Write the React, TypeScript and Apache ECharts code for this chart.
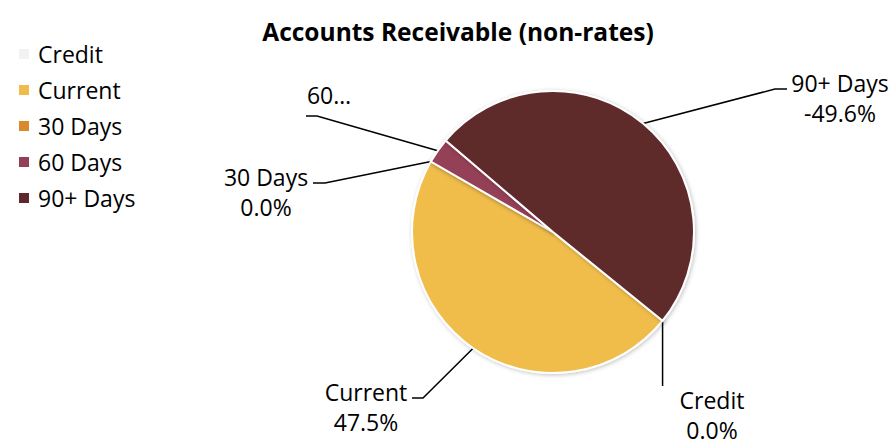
import React, { useEffect, useRef } from "react";
import * as echarts from "echarts";

const categories = ["Credit", "Current", "30 Days", "60 Days", "90+ Days"];
const percentValues = [0.0, 47.5, 0.0, 2.9, -49.6];
const labelNames = ["Credit", "Current", "30 Days", "60…", "90+ Days"];
const labelShowsPercent = [true, true, true, false, true];
const sliceColors = ["#F2F2F2", "#F0BD4B", "#D9882C", "#943F56", "#5E292C"];
const chartTitle = "Accounts Receivable (non-rates)";

// layout only (label block centres and leader-line elbows)
const labelCenters: number[][] = [
  [712, 415],
  [366, 407],
  [266, 192],
  [329, 95],
  [840, 98],
];
const lineElbows: (number | null)[][] = [
  [null, 386, null, 386],
  [423, 398, 412, 398],
  [325, 183, 313, 183],
  [317, 116, 306, 116],
  [775, 89, 787, 89],
];

const FONT = "'Open Sans', 'Noto Sans', sans-serif";

export default function App() {
  const ref = useRef<HTMLDivElement>(null);
  useEffect(() => {
    if (!ref.current) return;
    const chart = echarts.init(ref.current, undefined, { renderer: "svg" });
    const data = categories.map((name, i) => ({
      name,
      value: Math.abs(percentValues[i]),
      itemStyle: { color: sliceColors[i] },
    }));
    chart.setOption({
      animation: false,
      backgroundColor: "#ffffff",
      graphic: [
        {
          type: "text",
          x: 458,
          y: 31,
          style: {
            text: chartTitle,
            font: `bold 24.5px ${FONT}`,
            fill: "#000",
            align: "center",
            verticalAlign: "middle",
          },
        },
      ],
      legend: {
        orient: "vertical",
        left: 12,
        top: 37,
        itemWidth: 12,
        itemHeight: 12,
        itemGap: 12,
        icon: "rect",
        data: categories,
        textStyle: {
          fontFamily: FONT,
          fontSize: 23,
          color: "#000",
          lineHeight: 24,
          padding: [0, 0, 0, 3],
        },
      },
      series: [
        {
          type: "pie",
          center: [553, 232],
          radius: 141,
          startAngle: -39,
          clockwise: true,
          avoidLabelOverlap: false,
          minShowLabelAngle: 0,
          stillShowZeroSum: true,
          itemStyle: {
            borderColor: "#ffffff",
            borderWidth: 2,
            shadowBlur: 4,
            shadowColor: "rgba(0,0,0,0.25)",
            shadowOffsetX: 1,
            shadowOffsetY: 1,
          },
          label: {
            show: true,
            position: "outside",
            fontFamily: FONT,
            fontSize: 23,
            color: "#000",
            lineHeight: 30,
            align: "center",
            formatter: (p: any) => {
              const i = p.dataIndex;
              const signed = percentValues[i];
              return labelShowsPercent[i]
                ? `${labelNames[i]}\n${signed.toFixed(1)}%`
                : labelNames[i];
            },
          },
          labelLine: {
            show: true,
            length: 20,
            length2: 10,
            lineStyle: { color: "#000", width: 1.5 },
          },
          labelLayout: (params: any) => {
            const i = params.dataIndex;
            const pts = params.labelLinePoints;
            const anchor = pts && pts[0] ? pts[0] : [553, 232];
            const e = lineElbows[i];
            const ex = e[0] === null ? anchor[0] : (e[0] as number);
            const ey = e[1] as number;
            const fx = e[2] === null ? anchor[0] : (e[2] as number);
            const fy = e[3] as number;
            return {
              x: labelCenters[i][0],
              y: labelCenters[i][1],
              align: "center",
              verticalAlign: "middle",
              labelLinePoints: [
                [anchor[0], anchor[1]],
                [ex, ey],
                [fx, fy],
              ],
            };
          },
          data,
        },
      ],
    });
    return () => chart.dispose();
  }, []);
  return (
    <div
      ref={ref}
      style={{ position: "fixed", left: 0, top: 0, width: 889, height: 445 }}
    />
  );
}
